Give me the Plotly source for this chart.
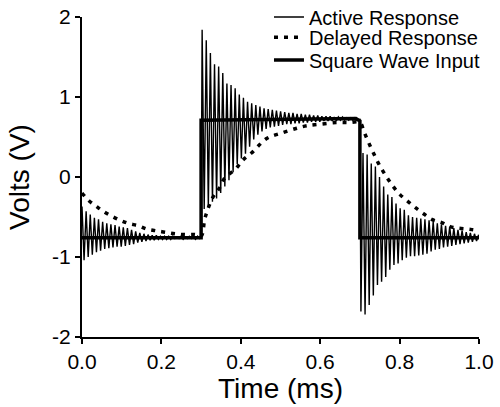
import plotly.graph_objects as go

# ringing period of the active response (ms)
period = 0.0104

# active response, extremes read cycle by cycle
# 0 - 0.3 ms, settling at about -0.76 V
seg_a_peaks = [-0.37, -0.43, -0.47, -0.51, -0.53, -0.56, -0.58, -0.59, -0.60, -0.62,
               -0.63, -0.64, -0.66, -0.68, -0.70, -0.71, -0.72, -0.73, -0.73, -0.74,
               -0.74, -0.74, -0.74, -0.75, -0.74, -0.75, -0.74, -0.75, -0.74]
seg_a_troughs = [-1.04, -1.00, -0.97, -0.94, -0.92, -0.90, -0.89, -0.88, -0.87, -0.87,
                 -0.86, -0.85, -0.84, -0.82, -0.81, -0.80, -0.79, -0.79, -0.78, -0.78,
                 -0.78, -0.78, -0.77, -0.77, -0.78, -0.77, -0.77, -0.78, -0.77]
# 0.3 - 0.7 ms, after the rising edge
seg_b_peaks = [1.84, 1.71, 1.55, 1.41, 1.38, 1.30, 1.17, 1.15, 1.11, 1.03,
               0.99, 0.94, 0.92, 0.90, 0.88, 0.86, 0.85, 0.84, 0.83, 0.82,
               0.81, 0.80, 0.80, 0.79, 0.79, 0.78, 0.78, 0.77, 0.77, 0.76,
               0.76, 0.76, 0.75, 0.75, 0.75, 0.74, 0.74, 0.74]
seg_b_troughs = [-0.40, -0.37, -0.31, -0.27, -0.20, -0.12, -0.04, 0.06, 0.16, 0.23,
                 0.29, 0.38, 0.47, 0.53, 0.57, 0.60, 0.62, 0.63, 0.64, 0.65,
                 0.66, 0.66, 0.67, 0.67, 0.68, 0.68, 0.69, 0.69, 0.69, 0.70,
                 0.70, 0.70, 0.70, 0.71, 0.71, 0.71, 0.71, 0.71]
# 0.7 - 1.0 ms, after the falling edge
seg_c_troughs = [-1.68, -1.72, -1.60, -1.48, -1.35, -1.31, -1.25, -1.16, -1.10, -1.08,
                 -1.04, -1.01, -0.99, -0.99, -0.98, -0.97, -0.96, -0.93, -0.91, -0.90,
                 -0.88, -0.87, -0.86, -0.85, -0.84, -0.83, -0.82, -0.81, -0.80]
seg_c_peaks = [0.30, 0.28, 0.17, 0.13, 0.00, -0.12, -0.22, -0.25, -0.33, -0.39,
               -0.41, -0.48, -0.50, -0.51, -0.52, -0.53, -0.54, -0.56, -0.58, -0.59,
               -0.61, -0.62, -0.64, -0.66, -0.67, -0.69, -0.70, -0.71, -0.72]

# delayed response
delay_t = [0.0, 0.016, 0.037, 0.054, 0.075, 0.096, 0.117, 0.142, 0.163, 0.184,
           0.209, 0.234, 0.259, 0.285, 0.300, 0.310, 0.329, 0.346, 0.360, 0.387,
           0.405, 0.427, 0.465, 0.503, 0.541, 0.566, 0.600, 0.640, 0.670, 0.700,
           0.710, 0.722, 0.735, 0.749, 0.766, 0.784, 0.801, 0.822, 0.839, 0.858,
           0.881, 0.906, 0.927, 0.948, 0.969, 0.985, 1.0]
delay_v = [-0.20, -0.29, -0.37, -0.43, -0.49, -0.54, -0.58, -0.61, -0.65, -0.67,
           -0.69, -0.71, -0.72, -0.72, -0.74, -0.51, -0.26, -0.14, -0.01, 0.10,
           0.21, 0.30, 0.48, 0.55, 0.61, 0.64, 0.66, 0.68, 0.68, 0.68,
           0.57, 0.43, 0.29, 0.15, 0.01, -0.12, -0.22, -0.31, -0.38, -0.45,
           -0.53, -0.57, -0.62, -0.64, -0.65, -0.66, -0.67]

# square wave input
square_t = [0.0, 0.300, 0.300, 0.690, 0.700, 0.700, 1.0]
square_v = [-0.76, -0.76, 0.71, 0.73, 0.70, -0.76, -0.76]

x_ticks = [0.0, 0.2, 0.4, 0.6, 0.8, 1.0]
x_labels = ["0.0", "0.2", "0.4", "0.6", "0.8", "1.0"]
y_ticks = [-2, -1, 0, 1, 2]
y_labels = ["-2", "-1", "0", "1", "2"]


def ringing(start, first, second):
    # alternate the extremes every half period from `start`
    ts, vs = [], []
    for k, (a, b) in enumerate(zip(first, second)):
        ts += [start + period * k, start + period * (k + 0.5)]
        vs += [a, b]
    return ts, vs


ta, va = ringing(0.0, seg_a_peaks, seg_a_troughs)
tb, vb = ringing(0.3026, seg_b_peaks, seg_b_troughs)
tc, vc = ringing(0.7026, seg_c_troughs, seg_c_peaks)
active_t = ta + [0.300] + tb + [0.700] + tc
active_v = va + [-0.76] + vb + [0.72] + vc

font = "Liberation Sans, Arial, sans-serif"

fig = go.Figure()
fig.add_trace(go.Scatter(x=active_t, y=active_v, mode="lines", name="Active Response",
                         line=dict(color="black", width=1.4), legend="legend"))
fig.add_trace(go.Scatter(x=delay_t, y=delay_v, mode="lines", name="Delayed Response",
                         line=dict(color="black", width=3.5, dash="4px,6px", shape="spline"),
                         legend="legend2"))
fig.add_trace(go.Scatter(x=square_t, y=square_v, mode="lines", name="Square Wave Input",
                         line=dict(color="black", width=3.5), legend="legend3"))

# one legend per row so the rows sit as close as in the reference
leg = dict(x=0.471, xanchor="left", yanchor="middle",
           bgcolor="rgba(0,0,0,0)", font=dict(size=20))

fig.update_layout(
    width=500, height=407,
    margin=dict(l=82, r=21, t=17, b=70, autoexpand=False),
    plot_bgcolor="white", paper_bgcolor="white",
    font=dict(family=font, color="black"),
    showlegend=True,
    legend=dict(leg, y=1.0),
    legend2=dict(leg, y=0.937),
    legend3=dict(leg, y=0.866),
    xaxis=dict(range=[0, 1], tickvals=x_ticks, ticktext=x_labels, ticklabeloverflow="allow",
               showline=True, linecolor="black", linewidth=2, showgrid=False, zeroline=False,
               ticks="outside", ticklen=5, tickwidth=2, tickcolor="black",
               tickfont=dict(size=21),
               title=dict(text="Time (ms)", font=dict(size=28), standoff=6)),
    yaxis=dict(range=[-2, 2], tickvals=y_ticks, ticktext=y_labels, ticklabeloverflow="allow",
               showline=True, linecolor="black", linewidth=2, showgrid=False, zeroline=False,
               ticks="outside", ticklen=5, tickwidth=2, tickcolor="black",
               tickfont=dict(size=21),
               title=dict(text="Volts (V)", font=dict(size=28), standoff=14)),
)

# drop the default page margin so the figure sits at the window corner
fig.write_html("out.html", config={"displayModeBar": False},
               post_script="document.body.style.margin = '0';")
